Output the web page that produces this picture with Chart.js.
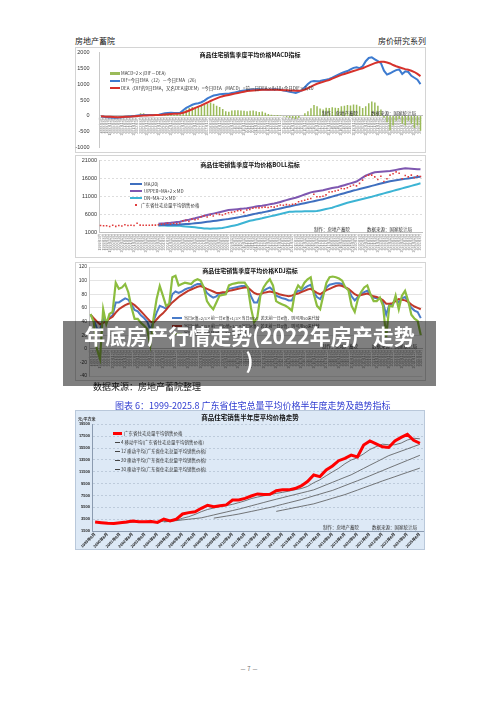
<!DOCTYPE html>
<html>
<head>
<meta charset="utf-8">
<script src="https://cdn.jsdelivr.net/npm/chart.js@4"></script>
<style>
html, body { margin: 0; padding: 0; background: #fff; }
body { width: 500px; height: 707px; position: relative; overflow: hidden; font-family: "Noto Sans CJK SC", "Noto Sans", sans-serif; color: #222; }
.t { position: absolute; white-space: nowrap; }
.frame { position: absolute; border: 1px solid #d4d4d4; box-sizing: border-box; }
canvas { position: absolute; }
.lg { position: absolute; white-space: nowrap; font-size: 4.5px; line-height: 5px; color: #333; }
.sw { position: absolute; }
.ttl { position: absolute; width: 200px; text-align: center; font-weight: bold; font-size: 6px; line-height: 7px; color: #111; }
</style>
</head>
<body>

<div class="t" style="left:75px;top:35px;font-size:8px;">房地产蓄院</div>
<div class="t" style="left:378px;top:35px;font-size:8px;">房价研究系列</div>

<div class="frame" style="left:75px;top:47px;width:351px;height:106px;"></div>
<div class="frame" style="left:75px;top:155px;width:351px;height:103px;"></div>
<div class="frame" style="left:75px;top:262px;width:351px;height:119px;"></div>
<div class="frame" style="left:75px;top:410px;width:350px;height:140px;background:#dde9f6;border-color:#b9c8da;"></div>

<canvas id="c1" width="351" height="106" style="left:75px;top:47px;"></canvas>
<canvas id="c2" width="351" height="103" style="left:75px;top:155px;"></canvas>
<canvas id="c3" width="351" height="120" style="left:75px;top:262px;"></canvas>
<canvas id="c4" width="350" height="140" style="left:75px;top:410px;"></canvas>

<!-- chart 1 texts -->
<div class="ttl" style="left:150px;top:50.5px;">商品住宅销售季度平均价格MACD指标</div>
<div class="sw" style="left:110px;top:72px;width:10px;height:3px;background:#9bbb59;"></div>
<div class="lg" style="left:121px;top:71px;">MACD=2×(DIF－DEA)</div>
<div class="sw" style="left:110px;top:79.5px;width:10px;height:2px;background:#3d7bd0;"></div>
<div class="lg" style="left:121px;top:78px;">DIF=今日EMA（12）－今日EMA（26）</div>
<div class="sw" style="left:110px;top:87px;width:10px;height:2px;background:#d6322c;"></div>
<div class="lg" style="left:121px;top:85.5px;">DEA（DIF的9日EMA，又名DEA或DEM）=今日DEA（MACD）=前一日DEA×8/10+今日DIF×2/10</div>
<div class="lg" style="left:322px;top:110.5px;">制作：房地产蓄院</div>
<div class="lg" style="left:371px;top:110.5px;">数据来源：国家统计局</div>

<!-- chart 2 texts -->
<div class="ttl" style="left:150px;top:160.5px;">商品住宅销售季度平均价格BOLL指标</div>
<div class="sw" style="left:130px;top:183.3px;width:12px;height:2px;background:#3f6fbf;"></div>
<div class="lg" style="left:144px;top:182px;">MA(20)</div>
<div class="sw" style="left:130px;top:190px;width:12px;height:2px;background:#7e57b0;"></div>
<div class="lg" style="left:144px;top:188.7px;">UPPER=MA+2×MD</div>
<div class="sw" style="left:130px;top:197.3px;width:12px;height:2px;background:#3cb4d4;"></div>
<div class="lg" style="left:144px;top:196px;">DN=MA−2×MD</div>
<div class="sw" style="left:134.5px;top:204px;width:2px;height:2px;background:#e03c3c;"></div>
<div class="lg" style="left:141px;top:202.5px;">广东省住宅总量平均销售价格</div>
<div class="lg" style="left:314px;top:226.5px;">制作：房地产蓄院</div>
<div class="lg" style="left:367px;top:226.5px;">数据来源：国家统计局</div>

<!-- chart 3 texts -->
<div class="ttl" style="left:150px;top:267px;">商品住宅销售季度平均价格KDJ指标</div>
<div class="sw" style="left:172px;top:317.3px;width:10px;height:2px;background:#4a7cc9;"></div>
<div class="lg" style="left:184px;top:316px;font-size:4px;">当日K值=2/3×前一日K值+1/3×当日RSV；若无前一日K值，则可用50来代替</div>
<div class="sw" style="left:172px;top:325px;width:10px;height:2px;background:#c0392b;"></div>
<div class="lg" style="left:184px;top:323.7px;font-size:4px;">当日D值=2/3×前一日D值+1/3×当日K值；若无前一日D值，则可用50来代替</div>
<div class="sw" style="left:172px;top:332.5px;width:10px;height:2px;background:#8cbd3f;"></div>
<div class="lg" style="left:184px;top:331.2px;font-size:4px;">当日J值=3×当日K值－2×当日D值</div>
<div class="lg" style="left:322px;top:344px;">制作：房地产蓄院</div>
<div class="lg" style="left:372px;top:344px;">数据来源：国家统计局</div>

<div class="t" style="left:93px;top:381px;font-size:9px;line-height:11px;color:#222;">数据来源：房地产蓄院整理</div>

<div class="t" style="left:115px;top:400px;font-size:9px;line-height:11px;color:#2e3bd0;">图表 6：1999-2025.8 广东省住宅总量平均价格半年度走势及趋势指标</div>

<!-- chart 4 texts -->
<div class="ttl" style="left:150px;top:414px;font-size:6.5px;">商品住宅销售半年度平均价格走势</div>
<div class="lg" style="left:78px;top:416.5px;font-weight:bold;font-size:4px;">元/平方米</div>
<div class="sw" style="left:113px;top:432px;width:9px;height:2.5px;background:#ff0000;"></div>
<div class="lg" style="left:124px;top:431px;">广东省住宅总量平均销售价格</div>
<div class="sw" style="left:115px;top:441.5px;width:5px;height:0.8px;background:#444;"></div>
<div class="lg" style="left:121px;top:439.5px;">4 移动平均(广东省住宅总量平均销售价格)</div>
<div class="sw" style="left:115px;top:450.5px;width:5px;height:0.8px;background:#444;"></div>
<div class="lg" style="left:121px;top:448.5px;">12 移动平均(广东省住宅总量平均销售价格)</div>
<div class="sw" style="left:115px;top:459.5px;width:5px;height:0.8px;background:#444;"></div>
<div class="lg" style="left:121px;top:457.5px;">20 移动平均(广东省住宅总量平均销售价格)</div>
<div class="sw" style="left:115px;top:468.5px;width:5px;height:0.8px;background:#444;"></div>
<div class="lg" style="left:121px;top:466.5px;">30 移动平均(广东省住宅总量平均销售价格)</div>
<div class="lg" style="left:323px;top:525px;">制作：房地产蓄院</div>
<div class="lg" style="left:372px;top:525px;">数据来源：国家统计局</div>

<div class="t" style="left:240px;top:664px;font-size:6px;color:#666;">－ 7 －</div>

<div style="position:absolute;left:63px;top:321px;width:373px;height:65px;background:rgba(0,0,0,0.5);color:#fff;font-weight:bold;font-size:21px;line-height:25px;text-align:center;padding-top:2px;box-sizing:border-box;">年底房产行情走势(2022年房产走势<br>)</div>

<script>
// 季度、半年度的横轴标签
const quarterLabels = [];
for (let y = 1999; y <= 2025; y++) {
  for (const m of [3, 6, 9, 12]) {
    if (y === 2025 && m > 6) continue;
    quarterLabels.push(y + '年' + m + '月');
  }
}
const halfLabels = [];
for (let y = 1999; y <= 2025; y++) {
  for (const m of [6, 12]) {
    if (y === 2025 && m > 6) continue;
    halfLabels.push(y + '年' + m + '月');
  }
}

// 图1 MACD
const macdBars = [-10,-20,-30,-30,-40,-30,-20,-10,0,10,
  20,20,30,80,80,40,30,20,20,20,
  40,50,60,60,40,50,50,
  150,200,250,280,260,300,330,
  350,380,420,380,320,
  280,220,150,130,170,180,
  180,170,160,150,160,170,150,120,
  140,100,60,40,20,30,10,-20,-40,
  -60,-80,-100,-60,0,
  80,150,240,340,
  300,230,200,260,
  250,270,260,250,300,320,
  340,330,360,350,300,250,
  300,400,450,420,320,
  200,-60,-200,-450,-300,-150,-100,-250,-300,-150,-250,-380,-300,-470];
const difLine = [-20,-30,-40,-50,-60,-60,-50,-40,-30,-20,
  -10,0,10,20,30,30,30,30,30,40,
  60,80,90,100,90,90,100,
  180,250,300,350,380,400,430,
  480,550,600,640,660,
  680,690,700,700,720,740,
  760,780,800,810,820,830,840,840,
  830,830,820,830,840,830,820,800,780,
  760,740,720,760,
  800,900,1000,1080,1100,1090,1100,1120,1140,1160,
  1200,1250,1300,1340,1380,1410,1460,1510,1530,1500,
  1560,1720,1820,1840,1780,1720,1660,1420,1300,1340,
  1390,1440,1460,1320,1400,1380,1260,1200,1140,1000];
const deaLine = [-10,-20,-25,-30,-35,-40,-40,-35,-30,-25,
  -20,-10,0,5,10,15,20,20,25,30,
  35,45,55,60,65,70,75,
  100,130,170,210,250,290,330,
  380,420,470,510,550,
  590,620,640,660,680,700,
  720,740,760,780,790,800,810,815,
  820,820,820,820,820,820,815,810,805,
  800,795,790,790,800,
  830,870,920,970,
  1010,1040,1070,1100,
  1130,1170,1210,1250,1290,1320,
  1350,1380,1410,1440,1470,1500,
  1540,1580,1620,1660,1685,
  1700,1700,1680,1650,
  1600,1560,1530,1500,
  1470,1450,1420,1380,1320,1250];

// 图2 BOLL
const avgPrice = [3000,2950,2950,2700,3050,2750,3000,2850,3200,3000,3050,3000,3600,3100,3050,3050,3050,3100,3100,3200,
  3330,3420,3600,3420,3600,3500,3700,4340,4430,4150,4800,4600,4800,5430,5700,5340,5900,5620,6270,6090,
  5900,6270,6550,6640,6840,7110,7200,6640,7300,7480,7770,7950,
  7900,8000,8100,8000,8200,8100,8400,8700,8600,8800,8700,8900,9000,9600,9800,10000,10300,10500,
  11700,11000,11000,11100,11500,12300,12400,12600,12800,13300,13200,13500,13900,14250,14000,14700,15600,16700,17000,17000,
  16500,15800,16700,15200,16000,17000,17400,17900,17500,16000,16900,16500,17000,16300,16800,16600];
const bollMid = [...Array(19).fill(null),
  3100,3120,3140,3160,3180,3210,3240,3280,3330,3390,
  3450,3520,3600,3690,3790,3900,4010,4120,4230,4350,
  4470,4590,4700,4800,4950,5100,5250,5400,5550,5700,
  5900,6100,6300,6450,6600,6790,6980,7170,7360,7550,
  7740,7930,8120,8300,8480,8660,8840,9020,9200,9380,
  9560,9750,9940,10120,10300,10540,10780,11020,11260,11500,
  11740,11980,12220,12460,12700,12900,13120,13340,13560,13780,
  14000,14220,14440,14660,14880,15100,15300,15430,15560,15690,
  15820,15950,16080,16210,16340,16450,16560];
const bollUp = [...Array(19).fill(null),
  3500,3550,3600,3700,3750,3850,3950,4050,4250,4450,
  4600,4800,5000,5250,5450,5700,5900,6100,6300,6500,
  6700,6900,7100,7300,7380,7460,7540,7620,7700,7800,
  7950,8100,8250,8400,8500,8650,8800,8950,9100,9300,
  9550,9800,10050,10300,10500,10700,11000,11300,11600,11900,
  12200,12350,12500,12650,12800,13000,13200,13400,13550,13700,
  13950,14200,14450,14700,14950,15200,15750,16300,16870,17200,
  17500,17800,17870,17940,18010,18080,18160,18300,18450,18600,
  18750,18880,18820,18760,18700,18650,18600];
const bollDn = [...Array(19).fill(null),
  3000,2990,2970,2950,2930,2920,2910,2900,2820,2740,
  2660,2580,2500,2400,2300,2200,2150,2100,2150,2200,
  2250,2300,2480,2660,2840,3020,3200,3480,3750,4030,
  4300,4480,4650,4830,5000,5200,5400,5600,5800,6000,
  6200,6420,6630,6830,6850,6870,6890,6910,6930,6950,
  6970,6990,7000,7190,7380,7570,7760,7950,8230,8500,
  8780,9060,9330,9540,9750,9960,10170,10380,10590,10800,
  11000,11230,11460,11690,11920,12150,12380,12610,12850,13080,
  13310,13540,13780,14010,14240,14480,14720];

// 图3 KDJ
const kLine = [50,43,30,28,45,39,46,49,68,68,71,74,72,65,57,55,49,45,40,28,
  40,53,63,61,59,64,80,84,82,84,87,89,90,93,95,95,90,82,78,75,
  77,81,82,82,88,89,90,91,92,92,90,77,68,68,79,85,88,90,86,78,
  76,74,73,71,71,81,85,85,89,92,94,83,76,73,81,90,94,95,96,96,
  95,90,87,77,71,76,80,83,85,79,75,74,74,68,50,65,65,73,68,74,
  76,69,60,56,54,45];
const dLine = [50,45,40,36,38,40,44,47,53,58,61,64,66,67,64,60,55,50,45,40,
  38,43,48,52,57,63,68,72,76,79,82,85,87,89,91,92,90,88,86,84,
  82,82,83,83,85,86,87,88,89,90,90,86,82,80,80,82,83,84,83,82,
  80,79,78,77,78,80,81,83,85,87,88,85,82,80,83,86,88,90,92,93,
  92,90,88,84,80,78,79,80,81,79,77,76,74,71,66,66,67,70,73,72,
  71,69,65,62,60,58];
const jLine = [51,39,0,-15,58,36,51,54,97,88,90,95,83,61,44,44,38,34,29,5,
  44,73,92,78,63,66,105,107,93,95,97,96,95,100,102,100,90,70,63,58,
  68,78,79,80,93,95,96,97,97,97,90,60,39,45,78,90,97,102,93,70,
  67,65,63,60,56,83,93,88,97,102,105,80,63,58,78,97,105,106,105,103,
  100,90,86,63,54,73,83,90,93,80,70,70,75,63,17,63,62,78,58,78,
  85,70,50,44,41,20];

// 图4 半年度均价及移动平均
const halfPrice = [3020,2900,2800,2750,2900,3020,3200,3050,3050,3100,
  2950,3520,3200,3500,4370,4600,4750,5330,5840,5600,
  5770,5900,6730,6730,7000,7400,7750,7650,7700,8300,
  8440,8440,8660,9100,9840,10950,10670,11800,12470,13360,
  13760,14300,14000,16000,16700,16200,15700,15600,16700,17300,
  17800,16800,16300];
const ma4 = [null,null,null,
  2870,2840,2870,2980,3040,3080,3100,3040,3150,3190,
  3290,3650,3920,4300,4760,5130,5380,5630,5780,6000,
  6280,6590,6970,7220,7450,7620,7850,8020,8220,8460,
  8660,9010,9640,10140,10820,11470,12080,12850,13470,13860,
  14520,15250,15730,16150,16050,16050,16330,16850,17150,17050];
const ma12 = [...Array(11).fill(null),
  3020,3140,3250,3370,3490,3600,3720,3960,4210,4460,
  4700,4950,5190,5470,5750,6030,6310,6590,6860,7130,
  7390,7650,7910,8170,8440,8860,9290,9710,10140,10560,
  10980,11520,12060,12600,13130,13670,14210,14590,14970,15350,
  15740,16120];
const ma20 = [...Array(19).fill(null),
  3670,3840,4010,4180,4360,4580,4800,5020,5250,5470,
  5740,6000,6270,6530,6800,7110,7420,7730,8040,8345,
  8750,9160,9570,9970,10380,10810,11250,11680,12120,12550,
  12980,13410,13840,14270];
const ma30 = [...Array(29).fill(null),
  4810,5020,5230,5450,5660,5870,6080,6390,6700,7020,
  7330,7640,8020,8400,8790,9170,9550,9940,10300,10660,
  11030,11390,11750,12110];

Chart.defaults.font.family = "'Liberation Sans', 'Noto Sans CJK SC', sans-serif";
Chart.defaults.animation = false;

const base = {
  responsive: false,
  animation: false,
  plugins: { legend: { display: false }, tooltip: { enabled: false } }
};
const qTicks = { autoSkip: false, maxRotation: 90, minRotation: 90, font: { size: 3.5 }, color: '#777', padding: 1 };
const plain = v => String(v);

// 图1
new Chart(document.getElementById('c1'), {
  type: 'bar',
  data: {
    labels: quarterLabels,
    datasets: [
      { type: 'line', data: difLine, borderColor: '#3d7bd0', borderWidth: 2, pointRadius: 0, order: 1 },
      { type: 'line', data: deaLine, borderColor: '#d6322c', borderWidth: 2, pointRadius: 0, order: 0 },
      { type: 'bar', data: macdBars, backgroundColor: '#9bbb59', barPercentage: 0.5, categoryPercentage: 1, order: 5 }
    ]
  },
  options: {
    ...base,
    layout: { padding: { left: 0, right: 4, top: 5, bottom: 1 } },
    scales: {
      x: { position: { y: 0 }, offset: true, grid: { display: false, drawTicks: false }, border: { color: '#c0c0c0' }, ticks: qTicks },
      y: { min: -1000, max: 2000, ticks: { stepSize: 500, font: { size: 5.5 }, color: '#333', padding: 2, callback: plain },
           grid: { display: false }, border: { color: '#c8c8c8' }, afterFit: s => { s.width = 24.5; } }
    }
  }
});

// 图2
new Chart(document.getElementById('c2'), {
  type: 'line',
  data: {
    labels: quarterLabels,
    datasets: [
      { data: avgPrice, showLine: false, pointRadius: 1.1, pointStyle: 'rect', pointBackgroundColor: '#e03c3c', pointBorderWidth: 0, order: 0 },
      { data: bollMid, borderColor: '#3f6fbf', borderWidth: 2, pointRadius: 0, order: 1 },
      { data: bollUp, borderColor: '#7e57b0', borderWidth: 2, pointRadius: 0, order: 2 },
      { data: bollDn, borderColor: '#3cb4d4', borderWidth: 2, pointRadius: 0, order: 3 }
    ]
  },
  options: {
    ...base,
    layout: { padding: { left: 0, right: 4, top: 5.7, bottom: 0 } },
    scales: {
      x: { offset: true, grid: { display: false, drawTicks: false }, border: { color: '#c0c0c0' }, ticks: qTicks,
           afterFit: s => { s.height = 25.3; } },
      y: { min: 1000, max: 21000, ticks: { stepSize: 5000, font: { size: 5.5 }, color: '#333', padding: 2, callback: plain },
           grid: { color: '#cfcfcf', lineWidth: 0.7, drawTicks: false }, border: { color: '#c8c8c8', dash: [2, 2] },
           afterFit: s => { s.width = 24; } }
    }
  }
});

// 图3
new Chart(document.getElementById('c3'), {
  type: 'line',
  data: {
    labels: quarterLabels,
    datasets: [
      { data: kLine, borderColor: '#4a7cc9', borderWidth: 2, pointRadius: 0, order: 2 },
      { data: dLine, borderColor: '#c0392b', borderWidth: 2, pointRadius: 0, order: 1 },
      { data: jLine, borderColor: '#8cbd3f', borderWidth: 2.2, pointRadius: 0, order: 0 }
    ]
  },
  options: {
    ...base,
    layout: { padding: { left: 0, right: 3, top: 4.7, bottom: 6 } },
    scales: {
      x: { position: { y: 0 }, offset: true, grid: { display: false, drawTicks: false }, border: { color: '#c0c0c0' }, ticks: qTicks },
      y: { min: -40, max: 120, ticks: { stepSize: 20, font: { size: 5 }, color: '#333', padding: 2, callback: plain },
           grid: { color: '#d9d9d9', lineWidth: 0.7, drawTicks: false }, border: { color: '#c8c8c8' },
           afterFit: s => { s.width = 14; } }
    }
  }
});

// 图4
new Chart(document.getElementById('c4'), {
  type: 'line',
  data: {
    labels: halfLabels,
    datasets: [
      { data: halfPrice, borderColor: '#ff0000', borderWidth: 3, pointRadius: 0, order: 0 },
      { data: ma4, borderColor: '#555', borderWidth: 0.8, pointRadius: 0, order: 1 },
      { data: ma12, borderColor: '#555', borderWidth: 0.8, pointRadius: 0, order: 2 },
      { data: ma20, borderColor: '#555', borderWidth: 0.8, pointRadius: 0, order: 3 },
      { data: ma30, borderColor: '#555', borderWidth: 0.8, pointRadius: 0, order: 4 }
    ]
  },
  options: {
    ...base,
    layout: { padding: { left: 0, right: 2, top: 14.3, bottom: 0 } },
    scales: {
      x: { offset: true, grid: { display: false, drawTicks: false }, border: { color: '#8b9bb0' },
           ticks: { autoSkip: false, maxRotation: 45, minRotation: 45, font: { size: 4, weight: 'bold' }, color: '#222', padding: 1,
                    callback: function (v, i) { return i % 2 === 0 ? this.getLabelForValue(v) : ''; } },
           afterFit: s => { s.height = 19; } },
      y: { min: 1500, max: 19500, ticks: { stepSize: 2000, font: { size: 4, weight: 'bold' }, color: '#222', padding: 2, callback: plain },
           grid: { color: '#a9b8ca', lineWidth: 0.6, drawTicks: false }, border: { color: '#8b9bb0', dash: [2, 2] },
           afterFit: s => { s.width = 17; } }
    }
  }
});
</script>
</body>
</html>
